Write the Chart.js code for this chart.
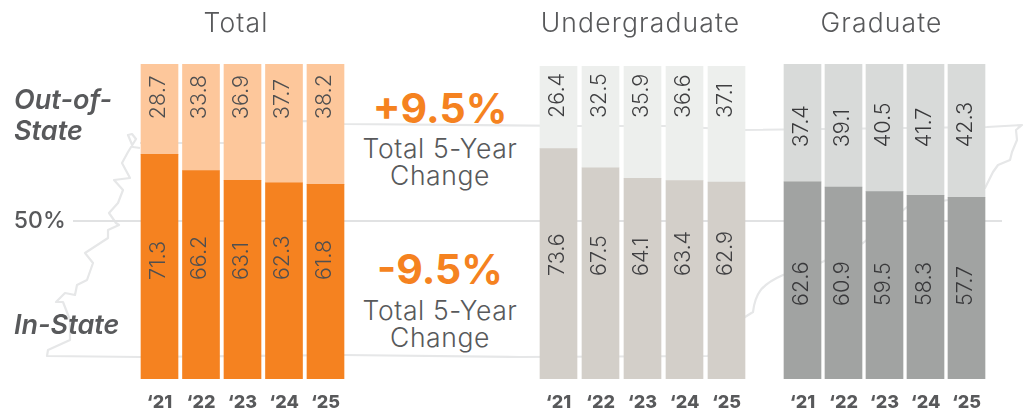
<!DOCTYPE html>
<html><head><meta charset="utf-8">
<script src="https://cdn.jsdelivr.net/npm/chart.js@4"></script>
<style>
html,body{margin:0;padding:0;background:#fff;width:1027px;height:411px;overflow:hidden}
#stage{position:relative;width:1027px;height:411px;font-family:Inter,sans-serif;color:#58595B}
canvas{position:absolute;top:0}
svg{position:absolute;left:0;top:0}
.t{position:absolute;white-space:nowrap;line-height:1}
.title{font-size:26.5px;font-weight:300;letter-spacing:1.15px;transform:translateX(-50%);top:9px}
.side{font-style:italic;font-weight:600;font-size:27px;left:14px}
.big{font-size:41px;font-weight:700;color:#F58220;transform:translateX(-50%);left:440px}
.sub{font-size:26.5px;font-weight:300;transform:translateX(-50%);left:440px;letter-spacing:.6px}
</style></head><body>
<div id="stage">
<svg width="1027" height="411" fill="none" stroke="#E6E7E8" stroke-width="2.2" stroke-linejoin="round">
<path d="M140 148L133 147L128 135L132 134L136 139L128 152L122 163L130 178L114 180L123 190L118 203L109 213L116 223L119 225L108 230L108 238L85 253L93 263L87 280L77 285L75 295L65 293L56 302L63 302L70 320L70 340L48 350L47 356L140 357L344 355L520 357L708 356L745 317L753 312C755 295 760 285 783 275L820 263L863 243L907 207L948 200L985 188L993 172L998 165L1010 160L1012 152L1017 140L1016 130L1022 125L987 127L743 130L667 126L577 126L344 124L307 121L280 122L265 143L140 143"/>
<path d="M73 221L1002 221" stroke="#E1E2E3"/>
</svg>
<canvas id="cTotal" style="left:0" width="347" height="411"></canvas>
<canvas id="cUnder" style="left:537px" width="211" height="411"></canvas>
<canvas id="cGrad" style="left:782px" width="206" height="411"></canvas>
<div class="t title" style="left:236px">Total</div>
<div class="t title" style="left:640.5px">Undergraduate</div>
<div class="t title" style="left:881.5px">Graduate</div>
<div class="t side" style="top:86px">Out-of-</div>
<div class="t side" style="top:117px">State</div>
<div class="t side" style="top:311px">In-State</div>
<div class="t big" style="top:88px">+9.5%</div>
<div class="t sub" style="top:135px">Total 5-Year</div>
<div class="t sub" style="top:162px">Change</div>
<div class="t big" style="top:249px">-9.5%</div>
<div class="t sub" style="top:297px">Total 5-Year</div>
<div class="t sub" style="top:324px">Change</div>
</div>
<script>
const years = ["\u201821","\u201822","\u201823","\u201824","\u201825"];
const totalInState = [71.3,66.2,63.1,62.3,61.8];
const totalOutState = [28.7,33.8,36.9,37.7,38.2];
const underInState = [73.6,67.5,64.1,63.4,62.9];
const underOutState = [26.4,32.5,35.9,36.6,37.1];
const gradInState = [62.6,60.9,59.5,58.3,57.7];
const gradOutState = [37.4,39.1,40.5,41.7,42.3];
const yTicks = [50];

Chart.defaults.font.family = "Inter, sans-serif";
const INK = "#58595B";

const barLabels = {
  id: "barLabels",
  afterDatasetsDraw(chart) {
    const { ctx, scales } = chart;
    chart.data.datasets.forEach((ds, di) => {
      chart.getDatasetMeta(di).data.forEach((bar, i) => {
        ctx.save();
        ctx.translate(bar.x - 1, scales.y.getPixelForValue(ds.labelAnchor));
        ctx.rotate(-Math.PI / 2);
        ctx.font = "300 21.5px Inter, sans-serif";
        ctx.fillStyle = ds.labelColor;
        ctx.textAlign = "left";
        ctx.textBaseline = "middle";
        ctx.fillText(ds.data[i].toFixed(1), 0, 0);
        ctx.restore();
      });
    });
  }
};

function panel(id, inState, outState, inColor, outColor, anchors, opt) {
  new Chart(document.getElementById(id), {
    type: "bar",
    plugins: [barLabels],
    data: {
      labels: years,
      datasets: [
        { label: "In-State", data: inState, backgroundColor: inColor, labelAnchor: anchors[0], labelColor: opt.ink },
        { label: "Out-of-State", data: outState, backgroundColor: outColor, labelAnchor: anchors[1], labelColor: opt.ink }
      ]
    },
    options: {
      responsive: false,
      animation: false,
      layout: { padding: { top: opt.top, left: opt.padL || 0, right: opt.padR || 0, bottom: 0 } },
      plugins: { legend: { display: false }, tooltip: { enabled: false }, title: { display: false } },
      datasets: { bar: { barThickness: 37, borderWidth: 0 } },
      scales: {
        x: {
          stacked: true,
          grid: { display: false },
          border: { display: false },
          afterFit: s => { s.height = 32; },
          ticks: { color: INK, padding: 5, maxRotation: 0, font: { size: 18, weight: 800 } }
        },
        y: {
          stacked: true, min: 0, max: 100,
          display: !!opt.axisWidth,
          grid: { display: false },
          border: { display: false },
          afterBuildTicks: s => { s.ticks = yTicks.map(v => ({ value: v })); },
          afterFit: s => { if (opt.axisWidth) { s.width = opt.axisWidth; s.paddingTop = 0; s.paddingBottom = 0; } },
          ticks: { color: INK, padding: 65, callback: v => v + "%", font: { size: 23, weight: 500 } }
        }
      }
    }
  });
}

panel("cTotal", totalInState, totalOutState, "#F58220", "#FDC79B", [31.4, 82.5], { top: 64, axisWidth: 138.75, padR: .75, ink: "#4F4F50" });
panel("cUnder", underInState, underOutState, "#D3CFC9", "#EDEFED", [32.9, 83.4], { top: 66, padL: .5, padR: .5, ink: "#404042" });
panel("cGrad", gradInState, gradOutState, "#A1A3A2", "#D8DAD9", [23.2, 73.6], { top: 64, padR: 1, ink: "#39393B" });
</script>
</body></html>
